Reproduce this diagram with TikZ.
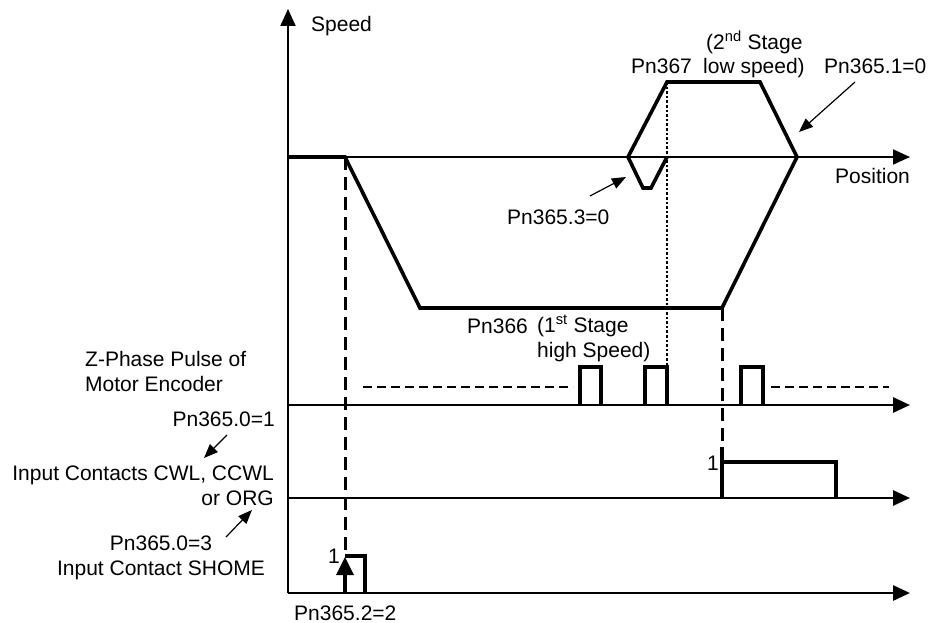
\documentclass[tikz,border=0pt]{standalone}
\usepackage{fontspec}
\setmainfont{Liberation Sans}
\usetikzlibrary{arrows.meta,positioning}

\begin{document}
\begin{tikzpicture}[x=1pt,y=-1pt,
  txt/.style={inner sep=0pt,font=\fontsize{21}{24.5}\selectfont},
  axis/.style={line width=2.9pt,-{Triangle[length=17pt,width=15pt]}},
  prof/.style={line width=3.6pt,line join=miter},
  pulse/.style={line width=3.2pt},
  cue/.style={line width=3pt,dash pattern=on 13pt off 7pt},
  ptr/.style={line width=1.2pt,-{Triangle[length=14pt,width=11pt]}},
  gap/.style={line width=1.4pt,dash pattern=on 9pt off 5pt}]
\useasboundingbox (0,0) rectangle (930,623);
% axes
\coordinate (o) at (288,593);
\coordinate (top) at (288,9);
\foreach \n/\y in {pos/157,zph/405,cwl/498,sho/593}{
  \coordinate (\n0) at (288,\y); \coordinate (\n1) at (910,\y);}
\draw[axis,line width=2.2pt] (o) -- (top);
\draw[axis,line width=2pt] (pos0) -- (pos1);
\draw[axis] (zph0) -- (zph1);
\draw[axis] (cwl0) -- (cwl1);
\draw[axis] (sho0) -- (sho1);
% speed profile
\coordinate (d0) at (345,157); \coordinate (d1) at (420,308);
\coordinate (d2) at (722,308); \coordinate (d3) at (797,157);
\coordinate (d4) at (760,82);  \coordinate (d5) at (667,82);
\coordinate (d6) at (628,157); \coordinate (d7) at (643,188);
\coordinate (d8) at (651,188); \coordinate (d9) at (667,157);
\draw[prof] (pos0) -- (d0) -- (d1) -- (d2) -- (d3) -- (d4) -- (d5) -- (d6) -- (d7) -- (d8) -- (d9);
% markers
\coordinate (s0) at (345,593); \coordinate (s1) at (345,557);
\coordinate (c0) at (722,498); \coordinate (c1) at (722,447);
\coordinate (z1) at (667,367);
\draw[cue] (d0) -- (s1);
\draw[cue] (d2) -- (c1);
\draw[line width=2.8pt,dash pattern=on 2.6pt off 2pt] (d5) -- (z1);
% Z-phase pulses
\foreach \a/\b in {580/601,645/667,741/763}
  \draw[pulse] (\a,405) |- (\b,367) -- (\b,405);
\draw[gap] (363,387) -- (573,387);
\draw[gap] (771,387) -- (889,387);
% contact pulses
\draw[pulse] (c1) -- (c0);
\draw[pulse] (722,462) -| (836,498);
\draw[pulse,-{Triangle[length=18pt,width=17pt]}] (s0) -- (s1);
\draw[pulse] (345,556) -| (365,593);
% labels
\node[txt,anchor=base west] (lspeed) at (311,32) {Speed};
\node[txt,anchor=base west] (lpos) at (835,184) {Position};
\node[txt,anchor=base west] (l3) at (507,225) {Pn365.3=0};
\node[txt,anchor=base west] (l1) at (824,74) {Pn365.1=0};
\node[txt,anchor=base west] (l367) at (631,74) {Pn367};
\node[txt,anchor=base west,align=left] (lst2) at (703,74) {\hspace*{3pt}(2\textsuperscript{nd} Stage\\low speed)};
\node[txt,anchor=base west] (l366) at (467,333) {Pn366};
\node[txt,anchor=base west,align=left] (lst1) at (537,357) {(1\textsuperscript{st} Stage\\high Speed)};
\node[txt,anchor=base west,align=left] (lzph) at (85,391) {Z-Phase Pulse of\\Motor Encoder};
\node[txt,anchor=base east] (l01) at (275,426) {Pn365.0=1};
\node[txt,anchor=base east,align=right] (lcwl) at (274,505) {Input Contacts CWL, CCWL\\or ORG};
\node[txt,anchor=base,align=center] (l03) at (161,575) {Pn365.0=3\\Input Contact SHOME};
\node[txt,anchor=base west] (l22) at (294,620) {Pn365.2=2};
\node[txt,anchor=base east] (one1) at (340,563) {1};
\node[txt,anchor=base east] (one2) at (719,470) {1};
% pointers
\coordinate (f3) at (590,196);  \coordinate (t3) at (626,177);
\coordinate (f1) at (855,82);   \coordinate (t1) at (799,132);
\coordinate (f01) at (227,435); \coordinate (t01) at (204,458);
\coordinate (f03) at (226,537); \coordinate (t03) at (252,510);
\draw[ptr] (f3) -- (t3);
\draw[ptr] (f1) -- (t1);
\draw[ptr] (f01) -- (t01);
\draw[ptr] (f03) -- (t03);
\end{tikzpicture}
\end{document}
